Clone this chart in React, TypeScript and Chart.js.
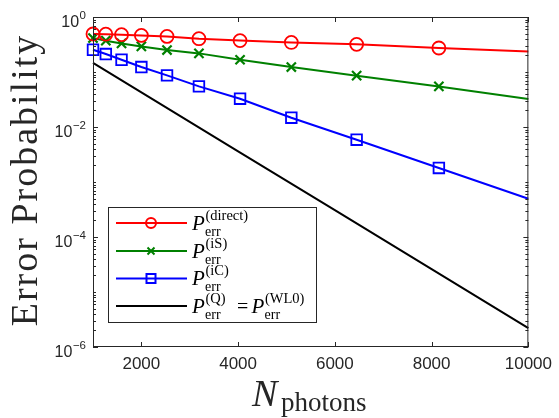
import { useEffect, useRef } from 'react';
import { Chart, registerables } from 'chart.js';

Chart.register(...registerables);

// ---- data ----
const X_MARKED = [1000, 1265, 1590, 2000, 2530, 3190, 4040, 5100, 6450, 8150, 10000];
const P_DIRECT = [0.491, 0.487, 0.477, 0.463, 0.444, 0.403, 0.372, 0.345, 0.318, 0.273, 0.237];
const P_IS = [0.415, 0.371, 0.331, 0.292, 0.251, 0.218, 0.167, 0.123, 0.0857, 0.0547, 0.0323];
const P_IC = [0.254, 0.212, 0.167, 0.123, 0.0867, 0.0547, 0.0327, 0.01476, 0.00588, 0.0018, 0.000497];
const X_Q = [1000, 2000, 4000, 6000, 8000, 10000];
const P_Q = [0.146, 0.0425, 0.00361, 0.000307, 0.000026, 0.0000022];

const X_TICKS = [2000, 4000, 6000, 8000, 10000];
const Y_TICKS = [1e-6, 1e-4, 1e-2, 1];
const Y_TICK_EXP = ['\u22126', '\u22124', '\u22122', '0'];

const LEGEND_SUPS = ['(direct)', '(iS)', '(iC)', '(Q)'];
const LEGEND_SUP2 = '(WL0)';
const X_TITLE_MAIN = 'N';
const X_TITLE_SUB = 'photons';
const Y_TITLE = 'Error Probability';

const SERIF = '"Liberation Serif", "Times New Roman", serif';
const SANS = '"Liberation Sans", Arial, sans-serif';
const AXIS_COLOR = '#262626';

const pts = (xs: number[], ys: number[]) => xs.map((x, i) => ({ x, y: ys[i] }));
const radii = (n: number, r: number) => Array.from({ length: n }, (_, i) => (i === n - 1 ? 0 : r));

const matlabAxes = {
  id: 'matlabAxes',
  afterDraw(chart: any) {
    const { ctx, chartArea, scales } = chart;
    const { left, right, top, bottom } = chartArea;
    const xs = scales.x;
    const ys = scales.y;
    ctx.save();
    // box
    ctx.strokeStyle = AXIS_COLOR;
    ctx.lineWidth = 1;
    ctx.strokeRect(left + 0.5, top + 0.5, right - left - 1, bottom - top - 1);
    ctx.beginPath();
    // x ticks (inward, top & bottom)
    for (const v of X_TICKS) {
      const px = Math.round(xs.getPixelForValue(v)) + 0.5;
      ctx.moveTo(px, bottom);
      ctx.lineTo(px, bottom - 5);
      ctx.moveTo(px, top);
      ctx.lineTo(px, top + 5);
    }
    // y ticks (log, major + minor)
    for (let e = -6; e <= 0; e++) {
      for (let k = 1; k <= 9; k++) {
        if (e === 0 && k > 1) break;
        const val = k * Math.pow(10, e);
        const py = Math.round(ys.getPixelForValue(val)) + 0.5;
        const major = k === 1 && e % 2 === 0;
        const len = major ? 5 : 3;
        ctx.moveTo(left, py);
        ctx.lineTo(left + len, py);
        ctx.moveTo(right, py);
        ctx.lineTo(right - len, py);
      }
    }
    ctx.stroke();

    // y tick labels 10^e
    ctx.fillStyle = AXIS_COLOR;
    ctx.textAlign = 'right';
    ctx.textBaseline = 'alphabetic';
    Y_TICKS.forEach((v, i) => {
      const py = ys.getPixelForValue(v);
      const xr = 86;
      ctx.font = `11.5px ${SANS}`;
      const ew = ctx.measureText(Y_TICK_EXP[i]).width;
      ctx.fillText(Y_TICK_EXP[i], xr, py + 1.5);
      ctx.font = `16px ${SANS}`;
      ctx.fillText('10', xr - ew - 0.5, py + 9.5);
    });

    // y title
    ctx.save();
    ctx.translate(37, 180);
    ctx.rotate(-Math.PI / 2);
    ctx.textAlign = 'center';
    ctx.font = `38px ${SERIF}`;
    (ctx as any).letterSpacing = '2px';
    ctx.fillText(Y_TITLE, 0, 0);
    ctx.restore();

    // x title
    ctx.textAlign = 'left';
    ctx.font = `italic 38px ${SERIF}`;
    ctx.fillText(X_TITLE_MAIN, 252, 406);
    ctx.font = `27px ${SERIF}`;
    ctx.fillText(X_TITLE_SUB, 281, 411);

    // legend
    const bx = 108.5, by = 207.5, bw = 208, bh = 115;
    ctx.fillStyle = '#ffffff';
    ctx.fillRect(bx, by, bw, bh);
    ctx.strokeStyle = AXIS_COLOR;
    ctx.lineWidth = 1;
    ctx.strokeRect(bx, by, bw, bh);
    const rows = [223, 251, 278.5, 306];
    const ds = chart.data.datasets;
    rows.forEach((yc, i) => {
      const col = ds[i].borderColor;
      ctx.strokeStyle = col;
      ctx.lineWidth = 2;
      ctx.beginPath();
      ctx.moveTo(116, yc);
      ctx.lineTo(187, yc);
      ctx.stroke();
      const mx = 151;
      ctx.beginPath();
      if (i === 0) {
        ctx.arc(mx, yc, 5, 0, Math.PI * 2);
      } else if (i === 1) {
        ctx.moveTo(mx - 3.5, yc - 3.5);
        ctx.lineTo(mx + 3.5, yc + 3.5);
        ctx.moveTo(mx - 3.5, yc + 3.5);
        ctx.lineTo(mx + 3.5, yc - 3.5);
      } else if (i === 2) {
        ctx.rect(mx - 4.5, yc - 4.5, 9, 9);
      }
      ctx.stroke();
      ctx.fillStyle = '#000';
      const drawP = (x: number, sup: string) => {
        ctx.font = `italic 21px ${SERIF}`;
        ctx.fillText('P', x, yc + 6.7);
        ctx.font = `14px ${SERIF}`;
        ctx.fillText('err', x + 13, yc + 12.7);
        ctx.font = `14.5px ${SERIF}`;
        ctx.fillText(sup, x + 13.5, yc - 3.3);
      };
      drawP(192, LEGEND_SUPS[i]);
      if (i === 3) {
        ctx.font = `20px ${SERIF}`;
        ctx.fillText('=', 237, yc + 6.7);
        drawP(251.5, LEGEND_SUP2);
      }
    });
    ctx.restore();
  },
};

export default function App() {
  const ref = useRef<HTMLCanvasElement | null>(null);
  useEffect(() => {
    if (!ref.current) return;
    const n = X_MARKED.length;
    const chart = new Chart(ref.current, {
      type: 'line',
      data: {
        datasets: [
          {
            label: 'direct',
            data: pts(X_MARKED, P_DIRECT),
            borderColor: '#ff0000',
            backgroundColor: 'rgba(0,0,0,0)',
            borderWidth: 2,
            pointStyle: 'circle',
            pointRadius: radii(n, 6.5),
            pointBorderWidth: 1.8,
            pointBorderColor: '#ff0000',
            pointBackgroundColor: 'rgba(0,0,0,0)',
            clip: false,
          },
          {
            label: 'iS',
            data: pts(X_MARKED, P_IS),
            borderColor: '#008000',
            backgroundColor: 'rgba(0,0,0,0)',
            borderWidth: 2,
            pointStyle: 'crossRot',
            pointRadius: radii(n, 6.5),
            pointBorderWidth: 2.2,
            pointBorderColor: '#008000',
            pointBackgroundColor: 'rgba(0,0,0,0)',
            clip: false,
          },
          {
            label: 'iC',
            data: pts(X_MARKED, P_IC),
            borderColor: '#0000ff',
            backgroundColor: 'rgba(0,0,0,0)',
            borderWidth: 2,
            pointStyle: 'rect',
            pointRadius: radii(n, 7.5),
            pointBorderWidth: 1.8,
            pointBorderColor: '#0000ff',
            pointBackgroundColor: 'rgba(0,0,0,0)',
            clip: false,
          },
          {
            label: 'Q',
            data: pts(X_Q, P_Q),
            borderColor: '#000000',
            backgroundColor: 'rgba(0,0,0,0)',
            borderWidth: 2,
            pointRadius: 0,
            clip: false,
          },
        ],
      },
      options: {
        animation: false,
        responsive: true,
        maintainAspectRatio: false,
        layout: { padding: { top: 17, right: 29, left: 0, bottom: 0 } },
        plugins: { legend: { display: false }, tooltip: { enabled: false } },
        elements: { line: { tension: 0 } },
        scales: {
          x: {
            type: 'linear',
            min: 1000,
            max: 10000,
            grid: { display: false, drawTicks: false },
            border: { display: false },
            ticks: {
              font: { family: SANS, size: 17 },
              color: AXIS_COLOR,
              padding: 7,
              maxRotation: 0,
              autoSkip: false,
              callback: (v: any) => String(v),
            },
            afterBuildTicks: (s: any) => {
              s.ticks = X_TICKS.map((v) => ({ value: v }));
            },
            afterFit: (s: any) => {
              s.height = 71;
            },
          },
          y: {
            type: 'logarithmic',
            min: 1e-6,
            max: 1,
            grid: { display: false, drawTicks: false },
            border: { display: false },
            ticks: { display: false },
            afterFit: (s: any) => {
              s.width = 93;
            },
          },
        },
      },
      plugins: [matlabAxes],
    } as any);
    return () => chart.destroy();
  }, []);
  return (
    <div style={{ position: 'fixed', left: 0, top: 0, width: 559, height: 418, background: '#fff' }}>
      <canvas ref={ref} />
    </div>
  );
}
